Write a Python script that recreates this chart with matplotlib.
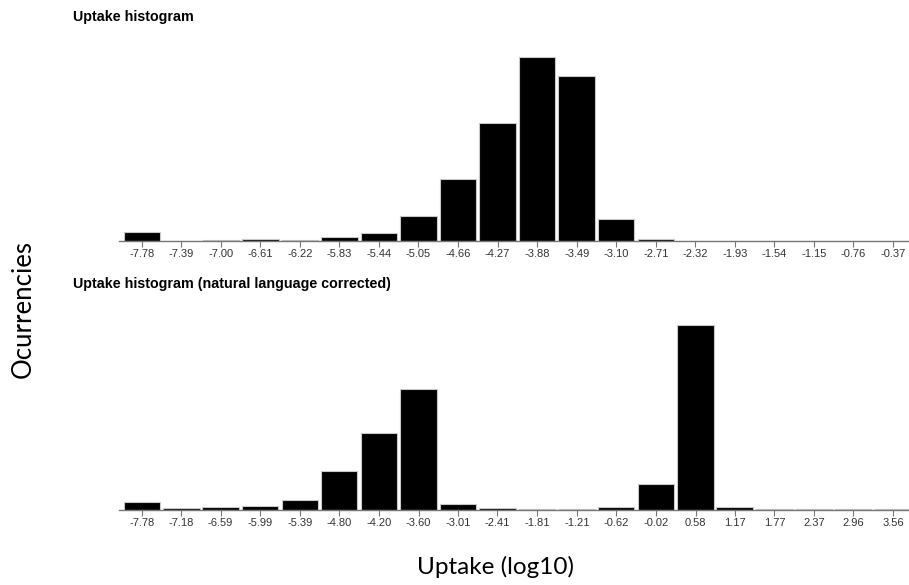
import numpy as np
import matplotlib
matplotlib.use("Agg")
import matplotlib.pyplot as plt

# bin centres shown as tick labels
top_bins = [-7.78, -7.39, -7.00, -6.61, -6.22, -5.83, -5.44, -5.05, -4.66, -4.27,
            -3.88, -3.49, -3.10, -2.71, -2.32, -1.93, -1.54, -1.15, -0.76, -0.37]
top_counts = [9, 0.5, 1.5, 2, 1.5, 4.5, 8, 25, 62, 118,
              184, 165, 22, 1.7, 0.4, 0.3, 0.3, 0.3, 0.3, 0.3]

bot_bins = [-7.78, -7.18, -6.59, -5.99, -5.39, -4.80, -4.20, -3.60, -3.01, -2.41,
            -1.81, -1.21, -0.62, -0.02, 0.58, 1.17, 1.77, 2.37, 2.96, 3.56]
bot_counts = [7.3, 1.3, 2.3, 4, 10, 39, 77, 121, 6, 1.3,
              0.7, 0.7, 3, 26, 185, 3, 0.7, 0.7, 0.3, 0.3]

W, H = 909, 585
fig = plt.figure(figsize=(W / 100, H / 100), dpi=100)

tick_font = {"family": ["Liberation Sans", "DejaVu Sans"], "size": 8, "color": "#333333"}
title_font = {"family": ["Liberation Sans", "DejaVu Sans"], "size": 10.3, "weight": "bold"}


def panel(bins, counts, base_px, top_px, title, title_y):
    bins = np.array(bins)
    step = (bins[-1] - bins[0]) / (len(bins) - 1)
    px_per_unit = (893 - 141.7) / (bins[-1] - bins[0])
    x0 = bins[0] - (141.7 - 119) / px_per_unit
    x1 = bins[-1] + (909 - 893) / px_per_unit
    ax = fig.add_axes([119 / W, (H - base_px) / H, (W - 119) / W, (base_px - top_px) / H])
    ax.bar(bins, counts, width=step * 0.92, color="black", edgecolor="#c8c8c8", linewidth=0.8)
    ax.set_xlim(x0, x1)
    ax.set_ylim(0, base_px - top_px)
    ax.set_xticks(bins)
    ax.set_xticklabels(["%.2f" % b for b in bins], fontdict=tick_font)
    ax.tick_params(axis="x", length=4, width=0.8, color="#777777", pad=2)
    ax.set_yticks([])
    for s in ["top", "right", "left"]:
        ax.spines[s].set_visible(False)
    ax.spines["bottom"].set_color("#777777")
    ax.spines["bottom"].set_linewidth(1.0)
    fig.text(73 / W, 1 - title_y / H, title, fontdict=title_font, va="center", ha="left")
    return ax


panel(top_bins, top_counts, 241, 40, "Uptake histogram", 17)
panel(bot_bins, bot_counts, 509.5, 309, "Uptake histogram (natural language corrected)", 284)

fig.text(495 / W, 1 - 567 / H, "Uptake (log10)", fontsize=17.5, family=["Lato", "DejaVu Sans"],
         ha="center", va="center")
fig.text(23 / W, 1 - 309 / H, "Ocurrencies", fontsize=18.5, family=["Lato", "DejaVu Sans"],
         rotation=90, ha="center", va="center")

plt.savefig("out.png", dpi=100)
